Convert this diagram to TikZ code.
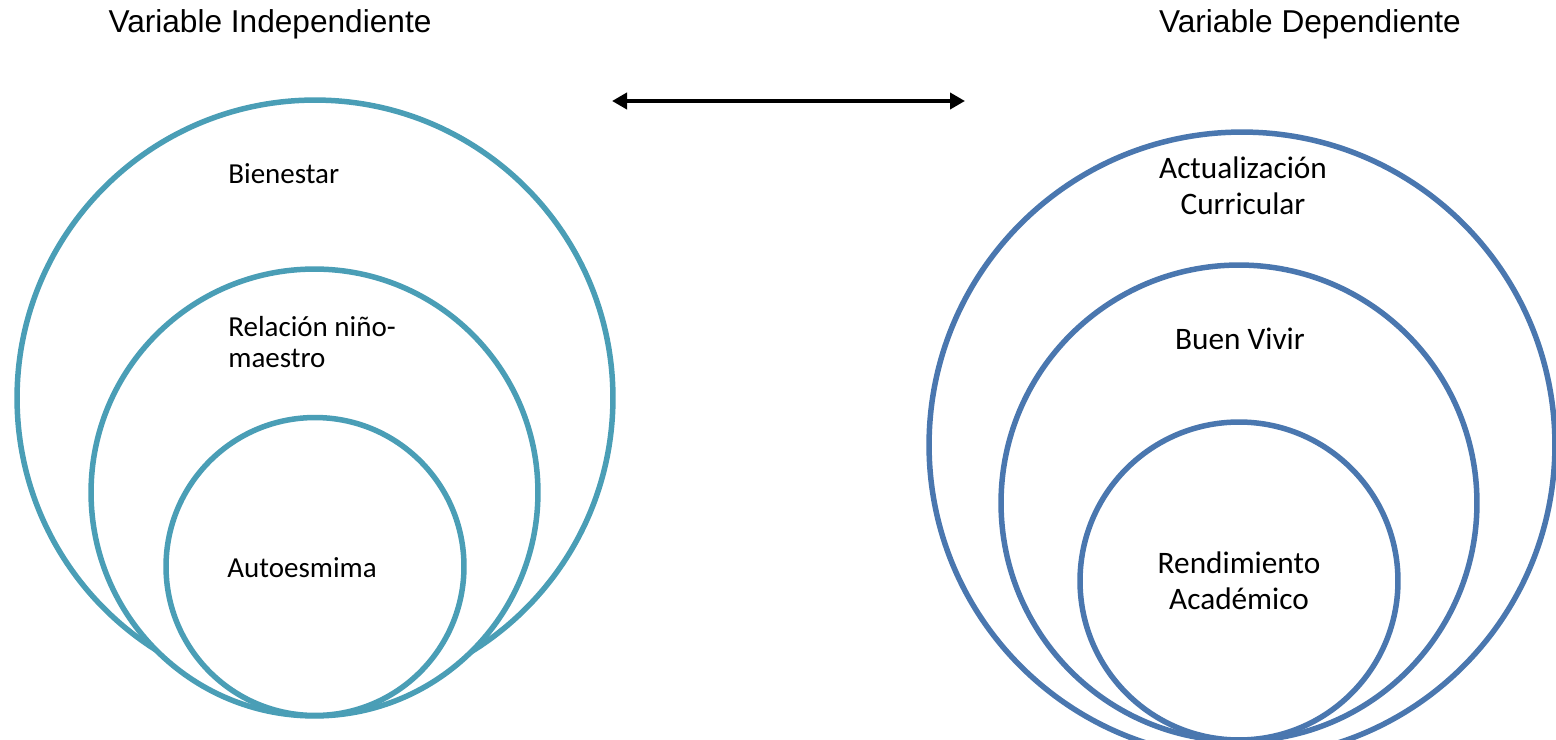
\documentclass[tikz,border=0pt]{standalone}
\usepackage{fontspec}
\setmainfont{Carlito}
\newfontfamily\arialfont{Liberation Sans}
\usetikzlibrary{arrows.meta}
\definecolor{vindep}{HTML}{4A9EB6}
\definecolor{vdep}{HTML}{4A77AF}

\begin{document}
\begin{tikzpicture}[x=0.02cm, y=-0.02cm,
    ring/.style={circle, line width=0.11cm, fill=white, inner sep=0pt},
    ringL/.style={ring, draw=vindep},
    ringR/.style={ring, draw=vdep},
    title/.style={font=\arialfont\fontsize{18}{22}\selectfont},
    lblL/.style={anchor=west, align=left, inner sep=0pt, font=\fontsize{16.5}{17.6}\selectfont},
    lblR/.style={align=center, font=\fontsize{17.8}{20.5}\selectfont},
    biarrow/.style={{Triangle[length=0.3cm, width=0.32cm]}-{Triangle[length=0.3cm, width=0.32cm]},
                    line width=0.08cm, draw=black}
  ]
    \useasboundingbox (0,0) rectangle (1556,740);
    \clip (0,0) rectangle (1556,740);

    \node[title] (tindep) at (270,24)  {Variable Independiente};
    \node[title] (tdep)   at (1310,24) {Variable Dependiente};

    % independent variable, nested circles
    \node[ringL, minimum size=11.92cm] (bien) at (315,398)   {};
    \node[ringL, minimum size=8.94cm]  (rel)  at (314.5,492.5) {};
    \node[ringL, minimum size=5.96cm]  (auto) at (315,566.5) {};

    \node[lblL] (lbien) at (228,174) {Bienestar};
    \node[lblL] (lrel)  at (228,342) {Relación niño-\\maestro};
    \node[lblL] (lauto) at (227,568) {Autoesmima};

    % dependent variable, nested circles
    \node[ringR, minimum size=12.52cm] (act)  at (1242,445) {};
    \node[ringR, minimum size=9.52cm]  (buen) at (1239,503) {};
    \node[ringR, minimum size=6.36cm]  (rend) at (1239,581) {};

    \node[lblR] (lact)  at (1243,186) {Actualización\\Curricular};
    \node[lblR] (lbuen) at (1240,339) {Buen Vivir};
    \node[lblR] (lrend) at (1239,581) {Rendimiento\\Académico};

    \coordinate (aleft)  at (612,101);
    \coordinate (aright) at (965,101);
    \draw[biarrow] (aleft) -- (aright);
  \end{tikzpicture}
\end{document}
